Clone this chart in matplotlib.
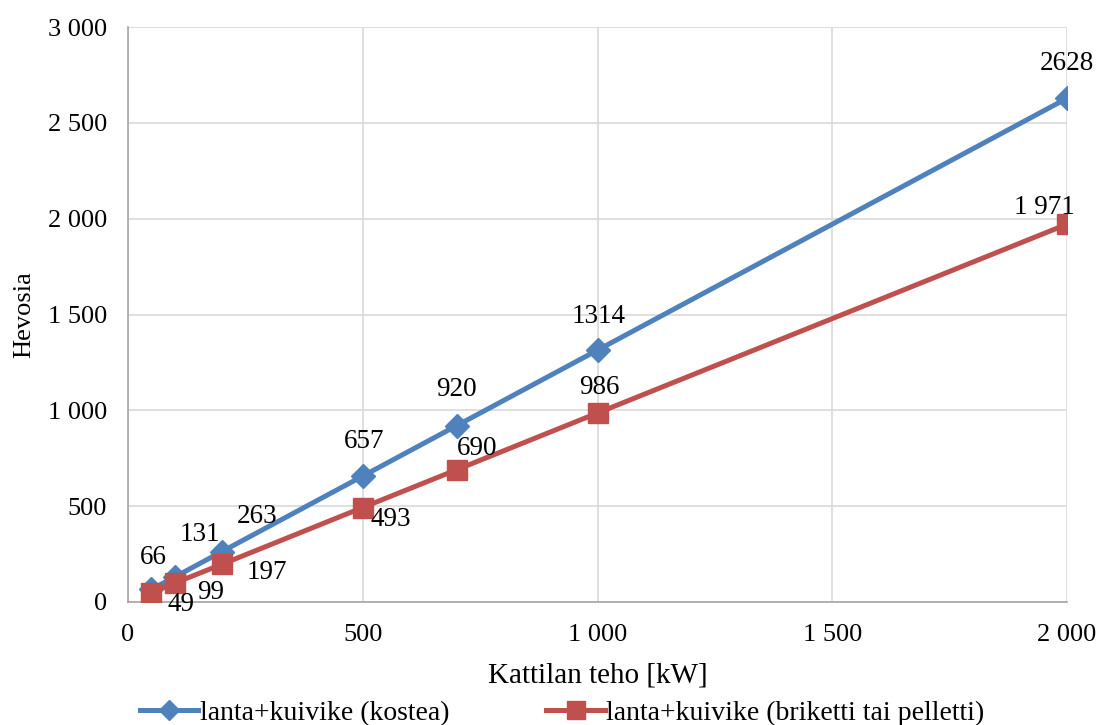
import matplotlib.pyplot as plt
from matplotlib.ticker import FuncFormatter, MultipleLocator
from matplotlib.lines import Line2D

plt.rcParams['font.family'] = ['Liberation Serif', 'DejaVu Serif']

teho = [50, 100, 200, 500, 700, 1000, 2000]
kostea = [66, 131, 263, 657, 920, 1314, 2628]
briketti = [49, 99, 197, 493, 690, 986, 1971]
kostea_txt = ['66', '131', '263', '657', '920', '1314', '2628']
briketti_txt = ['49', '99', '197', '493', '690', '986', '1 971']

# label offsets in pixels (dx, dy), dy positive = up
kostea_off = [(2, 32), (25, 42), (35, 35), (1, 35), (0, 36), (1, 34), (0, 35)]
briketti_off = [(30, -12), (36, -9), (45, -8), (28, -12), (20, 21), (2, 26), (-23, 17)]

blue = '#4F81BD'
red = '#C0504D'


def fmt(v, pos):
    return f"{int(v):,}".replace(',', ' ')


fig = plt.figure(figsize=(10.99, 7.25), dpi=100)
ax = fig.add_axes([128 / 1099, 1 - 602 / 725, 939 / 1099, 575 / 725])

ax.plot(teho, kostea, color=blue, lw=3.6, marker='D', ms=12.5, zorder=3)
ax.plot(teho, briketti, color=red, lw=3.6, marker='s', ms=14.5, zorder=3)

px = 0.72  # points per pixel at 100 dpi
for x, y, t, (dx, dy) in zip(teho, kostea, kostea_txt, kostea_off):
    ax.annotate(t, (x, y), xytext=(dx * px, dy * px), textcoords='offset points',
                ha='center', va='center', fontsize=19.5, zorder=4)
for x, y, t, (dx, dy) in zip(teho, briketti, briketti_txt, briketti_off):
    ax.annotate(t, (x, y), xytext=(dx * px, dy * px), textcoords='offset points',
                ha='center', va='center', fontsize=19.5, zorder=4)

ax.set_xlim(0, 2000)
ax.set_ylim(0, 3000)
ax.xaxis.set_major_locator(MultipleLocator(500))
ax.yaxis.set_major_locator(MultipleLocator(500))
ax.xaxis.set_major_formatter(FuncFormatter(fmt))
ax.yaxis.set_major_formatter(FuncFormatter(fmt))
ax.grid(True, color='#D9D9D9', lw=1.2)
ax.set_axisbelow(True)
for s in ['top', 'right']:
    ax.spines[s].set_visible(False)
for s in ['left', 'bottom']:
    ax.spines[s].set_color('#A6A6A6')
    ax.spines[s].set_linewidth(1.2)
ax.tick_params(length=0, labelsize=19)
ax.tick_params(axis='x', pad=16)
ax.tick_params(axis='y', pad=15)

ax.set_xlabel('Kattilan teho [kW]', fontsize=21, labelpad=12)
ax.set_ylabel('Hevosia', fontsize=19, labelpad=9)

handles = [Line2D([], [], color=blue, lw=3.6, marker='D', ms=10),
           Line2D([], [], color=red, lw=3.6, marker='s', ms=13)]
fig.legend(handles, ['lanta+kuivike (kostea)', 'lanta+kuivike (briketti tai pelletti)'],
           loc='center left', bbox_to_anchor=(140 / 1099, 1 - 713 / 725), ncol=2,
           frameon=False, fontsize=20, borderpad=0, borderaxespad=0,
           handlelength=2.1, handletextpad=0.05, columnspacing=3.5)

fig.savefig('out.png', dpi=100)
